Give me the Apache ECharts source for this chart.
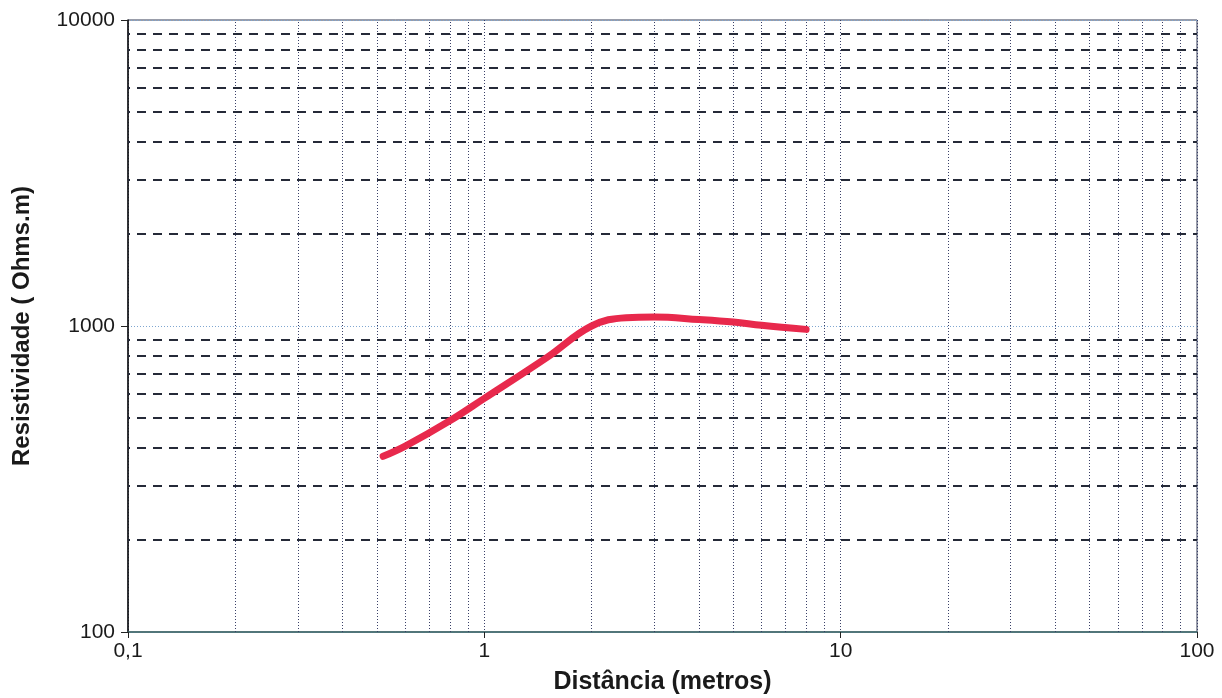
<!DOCTYPE html>
<html>
<head>
<meta charset="utf-8">
<script src="https://cdn.jsdelivr.net/npm/echarts@6/dist/echarts.min.js"></script>
<style>
  html, body { margin: 0; padding: 0; background: #fff; }
  #chart { width: 1222px; height: 698px; }
</style>
</head>
<body>
<div id="chart"></div>
<script>
// Curva de resistividade aparente
const distancias = [0.52, 0.6, 0.8, 1, 1.5, 2, 2.5, 3, 4, 5, 6, 8];
const resistividades = [375, 405, 490, 580, 790, 1000, 1065, 1070, 1050, 1030, 1005, 975];

// Linhas secundárias da grade
const gradeX = [0.2, 0.3, 0.4, 0.5, 0.6, 0.7, 0.8, 0.9, 2, 3, 4, 5, 6, 7, 8, 9, 20, 30, 40, 50, 60, 70, 80, 90];
const gradeY = [200, 300, 400, 500, 600, 700, 800, 900, 2000, 3000, 4000, 5000, 6000, 7000, 8000, 9000];

const chart = echarts.init(document.getElementById('chart'));

const font = 'Liberation Sans, Arial, sans-serif';

const option = {
    backgroundColor: '#ffffff',
    animation: false,
    grid: {
        left: 128,
        right: 25,
        top: 20,
        bottom: 66,
        containLabel: false,
        outerBoundsMode: 'none',
        show: true,
        borderColor: '#333a55',
        borderWidth: 1
    },
    xAxis: {
        type: 'log',
        logBase: 10,
        min: 0.1,
        max: 100,
        name: 'Distância (metros)',
        nameLocation: 'middle',
        nameGap: 38,
        nameTextStyle: { fontFamily: font, fontSize: 25, fontWeight: 'bold', color: '#1a1a1a' },
        axisLine: { lineStyle: { color: '#3c6868', width: 1.5 } },
        axisTick: { show: true, length: 6, lineStyle: { color: '#222' } },
        axisLabel: {
            fontFamily: font, fontSize: 21, color: '#1a1a1a', margin: 9,
            formatter: v => String(v).replace('.', ',')
        },
        splitLine: { show: true, lineStyle: { color: '#3a4068', type: [1, 2], width: 1 } },
        minorTick: { show: false }
    },
    yAxis: {
        type: 'log',
        logBase: 10,
        min: 100,
        max: 10000,
        name: 'Resistividade ( Ohms.m)',
        nameLocation: 'middle',
        nameGap: 94,
        nameTextStyle: { fontFamily: font, fontSize: 24, fontWeight: 'bold', color: '#1a1a1a' },
        axisLine: { lineStyle: { color: '#111', width: 1.5 } },
        axisTick: { show: true, length: 7, lineStyle: { color: '#222' } },
        axisLabel: {
            fontFamily: font, fontSize: 21, color: '#1a1a1a', margin: 13,
            formatter: v => String(Math.round(v))
        },
        splitLine: { show: true, lineStyle: { color: '#7fa6d0', type: [1, 2], width: 1 } }
    },
    series: [
        {
            name: 'grade vertical',
            type: 'line',
            data: [],
            silent: true,
            markLine: {
                silent: true,
                symbol: 'none',
                label: { show: false },
                lineStyle: { color: '#3a4068', type: [1, 2], width: 1 },
                data: gradeX.map(v => ({ xAxis: v }))
            }
        },
        {
            name: 'grade horizontal',
            type: 'line',
            data: [],
            silent: true,
            markLine: {
                silent: true,
                symbol: 'none',
                label: { show: false },
                lineStyle: { color: '#252a38', type: [9, 7], width: 2, dashOffset: -9 },
                data: gradeY.map(v => ({ yAxis: v }))
            }
        },
        {
            name: 'Resistividade',
            type: 'line',
            smooth: 0.4,
            symbol: 'none',
            data: distancias.map((d, i) => [d, resistividades[i]]),
            lineStyle: { color: '#e8294c', width: 7, cap: 'round' },
            z: 5
        }
    ]
};

chart.setOption(option);
</script>
</body>
</html>
